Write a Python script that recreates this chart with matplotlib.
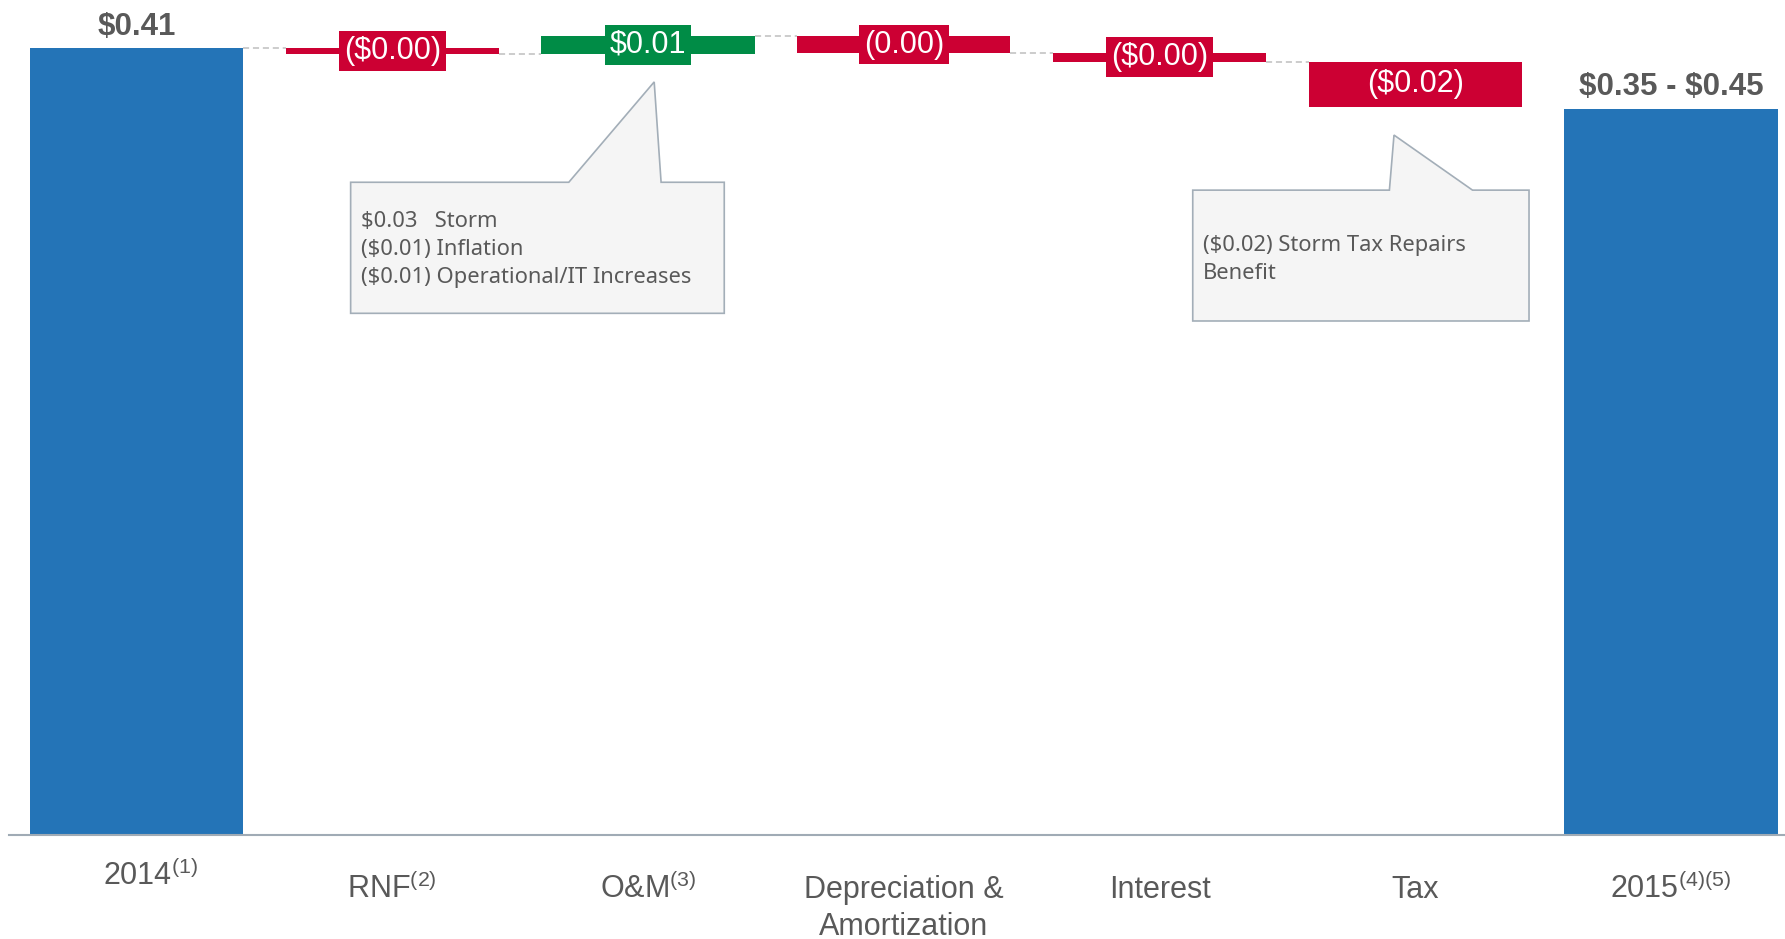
import matplotlib
matplotlib.use("Agg")
import matplotlib.pyplot as plt
import numpy as np
from matplotlib.patches import Polygon

# EPS bridge 2014 -> 2015 ($ per share)
categories = ["2014", "RNF", "O&M", "Depreciation &\nAmortization", "Interest", "Tax", "2015"]
footnotes = ["(1)", "(2)", "(3)", "", "", "", "(4)(5)"]
start_value = 0.41
deltas = [-0.0027, 0.0091, -0.0088, -0.0045, -0.0235]
end_value = 0.3785
delta_labels = ["(\\$0.00)", "\\$0.01", "(0.00)", "(\\$0.00)", "(\\$0.02)"]
total_labels = ["\\$0.41", "\\$0.35 - \\$0.45"]

om_note = ["\\$0.03   Storm", "(\\$0.01) Inflation", "(\\$0.01) Operational/IT Increases"]
tax_note = ["(\\$0.02) Storm Tax Repairs", "Benefit"]

BLUE = "#2474B7"
RED = "#CC0033"
GREEN = "#008C46"
GREY_TXT = "#595959"
CONNECT = "#BFBFBF"
BOX_FILL = "#F5F5F5"
BOX_EDGE = "#A3AEB8"

plt.rcParams["font.family"] = ["Liberation Sans", "DejaVu Sans"]
plt.rcParams["mathtext.default"] = "regular"

fig = plt.figure(figsize=(17.85, 9.39), dpi=100)
ax = fig.add_axes([9 / 1785, 104 / 939, 1 - 9 / 1785, 835 / 939])
ax.set_xlim(-0.499, 6.446)
ax.set_ylim(0, 0.4352)

w = 0.834
n = len(categories)
x = np.arange(n)

# totals
ax.bar([0, n - 1], [start_value, end_value], width=w, color=BLUE, zorder=2)

# floating steps
levels = start_value + np.concatenate([[0], np.cumsum(deltas)])
for i, d in enumerate(deltas):
    lo = min(levels[i], levels[i + 1])
    col = GREEN if d > 0 else RED
    ax.bar(i + 1, abs(d), bottom=lo, width=w, color=col, zorder=2)
    ax.text(i + 1, lo + abs(d) / 2, delta_labels[i], ha="center", va="center",
            fontsize=22, color="white", zorder=4,
            bbox=dict(boxstyle="square,pad=0.16", fc=col, ec="none"))

# dashed connectors
for i in range(len(deltas)):
    ax.hlines(levels[i], i + w / 2, i + 1 - w / 2, colors=CONNECT,
              linestyles=(0, (4, 2.5)), lw=1.1, zorder=1)

# total labels
for xi, val, lab in zip([0, n - 1], [start_value, end_value], total_labels):
    ax.annotate(lab, (xi, val), xytext=(0, 15.5), textcoords="offset points",
                ha="center", va="center", fontsize=22.5, fontweight="bold",
                color=GREY_TXT)

# category labels (baseline of last line is what va="baseline" pins)
for i, (cat, fn) in enumerate(zip(categories, footnotes)):
    lab = cat + ("$^{%s}$" % fn if fn else "")
    extra_lines = cat.count("\n")
    dx, dy = (10, 36) if i == 0 else (0, 45.4)
    dy += 26.6 * extra_lines
    ax.annotate(lab, (i, 0), xycoords=("data", "axes fraction"),
                xytext=(dx, -dy), textcoords="offset points",
                ha="center", va="baseline", fontsize=22, color=GREY_TXT,
                linespacing=1.29, multialignment="center", annotation_clip=False)

# callouts
def callout(x0, x1, ytop, ybot, tail_l, tip, tail_r, lines, tx, ty):
    verts = [(x0, ytop), (tail_l, ytop), tip, (tail_r, ytop), (x1, ytop),
             (x1, ybot), (x0, ybot)]
    ax.add_patch(Polygon(verts, closed=True, fc=BOX_FILL, ec=BOX_EDGE, lw=1.2,
                         zorder=3, clip_on=False))
    ax.text(tx, ty, "\n".join(lines), ha="left", va="top", fontsize=15.8,
            family=["Noto Sans", "DejaVu Sans"], color=GREY_TXT,
            linespacing=1.42, zorder=4)

callout(0.837, 2.298, 0.3402, 0.2719, 1.690, (2.024, 0.3925), 2.051,
        om_note, 0.877, 0.3250)
callout(4.130, 5.445, 0.3361, 0.2679, 4.899, (4.917, 0.3648), 5.224,
        tax_note, 4.171, 0.3125)

for s in ["top", "left", "right"]:
    ax.spines[s].set_visible(False)
ax.spines["bottom"].set_color("#A0ABB5")
ax.spines["bottom"].set_linewidth(1.5)
ax.set_xticks([])
ax.set_yticks([])

fig.savefig("out.png", dpi=100)
